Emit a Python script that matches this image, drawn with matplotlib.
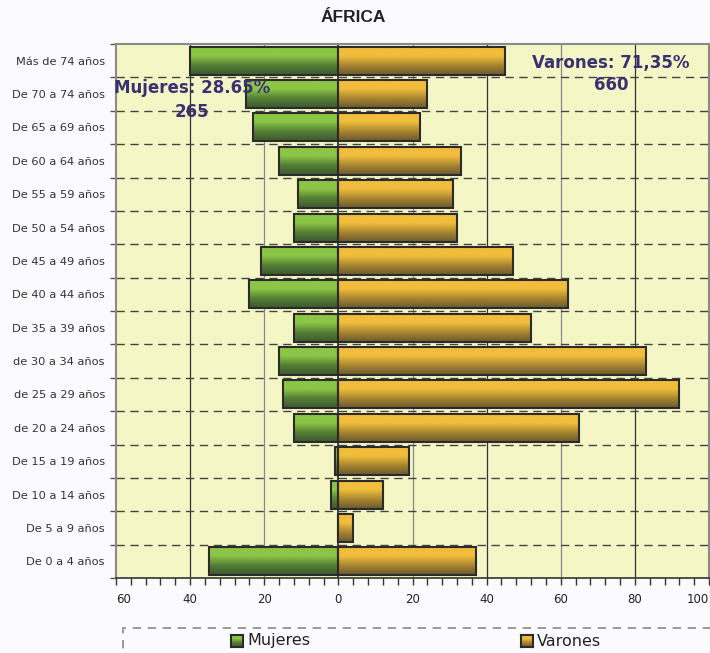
import numpy as np
import matplotlib
matplotlib.use("Agg")
import matplotlib.pyplot as plt
from matplotlib.colors import LinearSegmentedColormap
from matplotlib.patches import Rectangle

categories = ["De 0 a 4 años", "De 5 a 9 años", "De 10 a 14 años", "De 15 a 19 años",
              "de 20 a 24 años", "de 25 a 29 años", "de 30 a 34 años", "De 35 a 39 años",
              "De 40 a 44 años", "De 45 a 49 años", "De 50 a 54 años", "De 55 a 59 años",
              "De 60 a 64 años", "De 65 a 69 años", "De 70 a 74 años", "Más de 74 años"]
mujeres = [35, 0, 2, 1, 12, 15, 16, 12, 24, 21, 12, 11, 16, 23, 25, 40]
varones = [37, 4, 12, 19, 65, 92, 83, 52, 62, 47, 32, 31, 33, 22, 24, 45]
xticks = [-60, -40, -20, 0, 20, 40, 60, 80, 100]
title = "ÁFRICA"
ann_m = "Mujeres: 28.65%\n265"
ann_v = "Varones: 71,35%\n660"

fig = plt.figure(figsize=(7.1, 6.53), dpi=100, facecolor="#fbfbfd")
ax = fig.add_axes([116/710, 1-578/653, 593/710, 534/653])
ax.set_facecolor("#f5f6c6")

y = np.arange(len(categories))
ax.set_xlim(-60, 100)
ax.set_ylim(-0.5, len(categories)-0.5)

# grid
for xv in [-40, -20, 20, 40, 60, 80]:
    col = "#333333" if xv in (-40, 40, 80) else "#888888"
    ax.axvline(xv, color=col, lw=0.9, zorder=1)
for yb in np.arange(0.5, len(categories)-0.5, 1):
    ax.axhline(yb, color="#444444", lw=1.0, ls=(0, (6, 4)), zorder=1)
ax.axvline(0, color="#222222", lw=1.2, zorder=1)

cm_g = LinearSegmentedColormap.from_list("g", ["#3b5830", "#557f35", "#8cc646", "#8cc646"])
cm_y = LinearSegmentedColormap.from_list("y", ["#6a5830", "#a88630", "#f1bd3c", "#f1bd3c"])
grad = np.linspace(0, 1, 100).reshape(-1, 1)

bh = 0.84
bm = ax.barh(y, [-m for m in mujeres], height=bh, color="none", edgecolor="#2b2b2b", lw=1.5, zorder=4)
bv = ax.barh(y, varones, height=bh, color="none", edgecolor="#2b2b2b", lw=1.5, zorder=4)
for bars, cm in ((bm, cm_g), (bv, cm_y)):
    for p in bars:
        x0, y0 = p.get_x(), p.get_y()
        w, h = p.get_width(), p.get_height()
        if w == 0:
            continue
        im = ax.imshow(grad, cmap=cm, aspect="auto", origin="lower",
                       extent=[min(x0, x0+w), max(x0, x0+w), y0, y0+h], zorder=3,
                       interpolation="bilinear")
        im.set_clip_path(p)
ax.set_xlim(-60, 100)
ax.set_ylim(-0.5, len(categories)-0.5)

ax.set_yticks(y)
ax.set_yticklabels(categories, fontsize=8.2, color="#333333")
ax.tick_params(axis="y", which="major", length=0, pad=8)
ax.set_yticks(np.arange(-0.5, len(categories), 1), minor=True)
ax.tick_params(axis="y", which="minor", length=4, width=1, color="#555555", direction="out")
ax.set_xticks(xticks)
ax.set_xticklabels([str(abs(v)) for v in xticks], fontsize=8.5, color="#222222")
ax.set_xticks(np.arange(-60, 101, 4), minor=True)
ax.tick_params(axis="x", which="both", length=5, width=1, color="#333333", direction="out", pad=6)
lbls = ax.get_xticklabels()
lbls[0].set_ha("left")
lbls[-1].set_ha("right")

for s in ("top", "left", "right"):
    ax.spines[s].set_color("#8a8a8a")
    ax.spines[s].set_linewidth(1.5)
ax.spines["bottom"].set_color("#333333")
ax.spines["bottom"].set_linewidth(1.2)

ax.text(-39.5, 13.82, ann_m, ha="center", va="center", fontsize=12, fontweight="bold",
        color="#3a3170", linespacing=1.4, zorder=6)
ax.text(73.5, 14.6, ann_v, ha="center", va="center", fontsize=12, fontweight="bold",
        color="#3a3170", linespacing=1.3, zorder=6)

fig.text(0.497, 1-18/653, title, ha="center", va="center", fontsize=12.5, fontweight="bold",
         family="Liberation Sans", color="#222222")

# legend (dashed box extending past figure edge)
fig.patches.append(Rectangle((123/710, -0.05), 0.9, 1-628/653+0.05, transform=fig.transFigure,
                             fill=False, edgecolor="#888888", lw=1.2, ls=(0, (5, 4))))
for xs, cm, lab in ((231, cm_g, "Mujeres"), (521, cm_y, "Varones")):
    lax = fig.add_axes([xs/710, 1-647/653, 12/710, 12/653])
    lax.imshow(grad, cmap=cm, aspect="auto", origin="lower", extent=[0, 1, 0, 1])
    lax.set_xticks([]); lax.set_yticks([])
    for s in lax.spines.values():
        s.set_color("#2b2b2b"); s.set_linewidth(1.5)
    fig.text((xs+16)/710, 1-641/653, lab, ha="left", va="center", fontsize=11.5, color="#222222")

fig.savefig("out.png", dpi=100, facecolor=fig.get_facecolor())
